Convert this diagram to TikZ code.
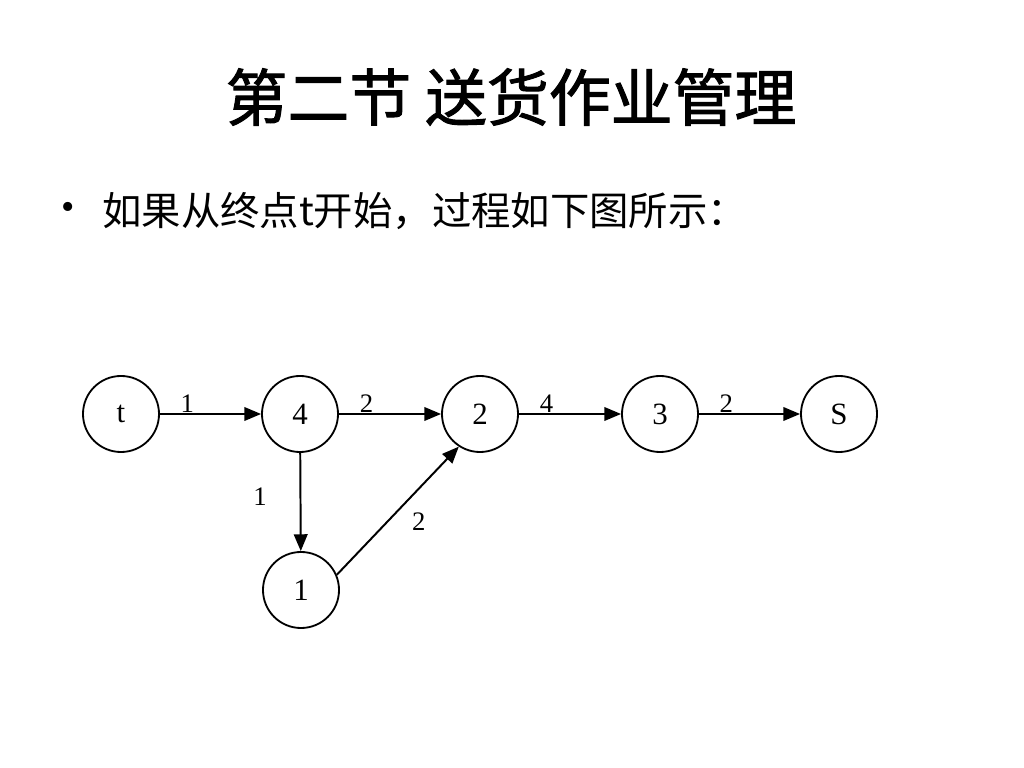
\documentclass[tikz,border=0pt]{standalone}
\usepackage{fontspec}
\setmainfont{Liberation Serif}
\newfontfamily\cjk{Noto Sans CJK SC}
\newfontfamily\cjkhead[FakeBold=1.6]{Noto Sans CJK SC}
\usetikzlibrary{arrows.meta}

\begin{document}
\begin{tikzpicture}[x=0.025cm, y=0.025cm,
  vertex/.style={draw, circle, line width=1.3pt, minimum size=1.9cm, inner sep=0pt, font=\fontsize{22}{22}\selectfont},
  edge/.style={-{Triangle[length=0.42cm, width=0.34cm]}, line width=1.4pt},
  weight/.style={inner sep=0.5pt, font=\fontsize{19}{19}\selectfont}]
\useasboundingbox (0,0) rectangle (1024,768);

% Title and text
\node[font=\cjkhead\fontsize{44}{44}\selectfont] (title) at (511,671) {第二节 送货作业管理};
\node[font=\fontsize{27}{27}\selectfont] (dot) at (68,557) {\textbullet};
\node[font=\cjk\fontsize{28}{28}\selectfont, anchor=west, inner sep=0pt] (text) at (102,557) {如果从终点t开始，过程如下图所示：};

% Nodes
\node[vertex] (t) at (121,354) {t};
\node[vertex] (n4) at (300,354) {4};
\node[vertex] (n2) at (480,354) {2};
\node[vertex] (n3) at (660,354) {3};
\node[vertex] (s) at (839,354) {S};
\node[vertex] (n1) at (301,178) {1};

% Arrows
\draw[edge] (t) -- (n4) node[weight, pos=0.27, above] {1};
\draw[edge] (n4) -- (n2) node[weight, pos=0.27, above] {2};
\draw[edge] (n2) -- (n3) node[weight, pos=0.27, above] {4};
\draw[edge] (n3) -- (s) node[weight, pos=0.27, above] {2};
\draw[edge] (n4) -- (n1) node[weight, pos=0.45, left=0.8cm] {1};
\draw[edge] (n1.23) -- (n2.237) node[weight, pos=0.55, below right=0.16cm] {2};
\end{tikzpicture}
\end{document}
